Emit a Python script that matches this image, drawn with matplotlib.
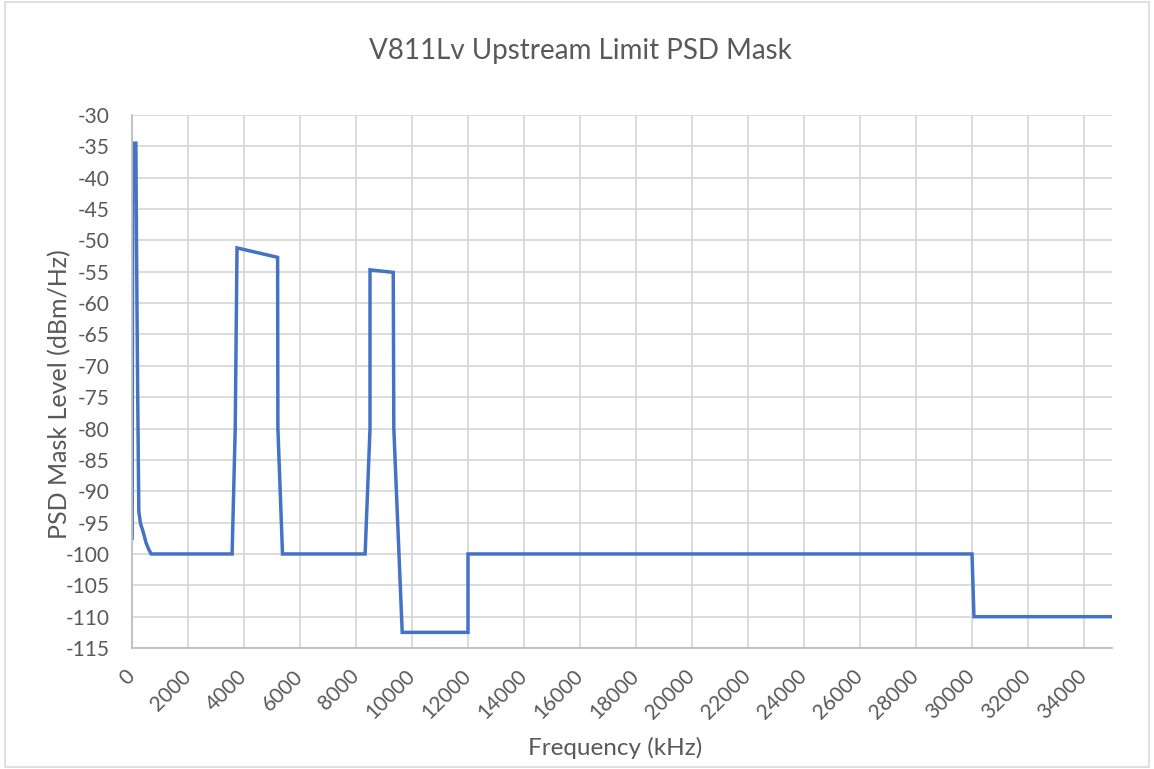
import numpy as np
import matplotlib
matplotlib.use("Agg")
import matplotlib.pyplot as plt
from matplotlib.patches import Rectangle

plt.rcParams['font.family'] = ['Lato', 'DejaVu Sans']
plt.rcParams['axes.unicode_minus'] = False

# mask breakpoints (kHz, dBm/Hz)
freq_khz = [0, 4, 25.875, 138, 150, 175, 200, 225, 243, 300, 400, 500, 600, 686,
            3575, 3686, 3750, 5200, 5210, 5375,
            8325, 8500, 8500, 9330, 9350, 9650,
            12000, 12000, 30000, 30070, 35000]
psd_dbm = [-97.5, -97.5, -34.5, -34.5, -43.2, -59.2, -73.0, -85.3, -93.2, -95.1, -96.5, -98.2, -99.3, -100,
           -100, -80, -51.2, -52.7, -80, -100,
           -100, -80, -54.7, -55.1, -80, -112.5,
           -112.5, -100, -100, -110, -110]

x_ticks = list(range(0, 34001, 2000))
y_ticks = list(range(-115, -29, 5))

fig = plt.figure(figsize=(11.54, 7.69), dpi=100)
ax = fig.add_axes([0.1144, 0.1573, 0.8492, 0.6932])

ax.plot(freq_khz, psd_dbm, color='#4472C4', linewidth=2.5, solid_joinstyle='miter')

ax.set_xlim(0, 35000)
ax.set_ylim(-115, -30)
ax.set_xticks(x_ticks)
ax.set_yticks(y_ticks)
ax.set_xticklabels([str(t) for t in x_ticks], rotation=45, ha='right', va='center',
                   rotation_mode='anchor')
ax.tick_params(axis='both', length=0, labelsize=15, colors='#595959')
ax.tick_params(axis='x', pad=18)
ax.tick_params(axis='y', pad=16)

ax.grid(True, color='#d9d9d9', linewidth=1.3)
ax.set_axisbelow(True)
for side in ['top', 'right']:
    ax.spines[side].set_visible(False)
for side in ['left', 'bottom']:
    ax.spines[side].set_color('#bfbfbf')
    ax.spines[side].set_linewidth(1.3)

fig.text(0.503, 0.923, 'V811Lv Upstream Limit PSD Mask', fontsize=20, color='#595959',
         ha='center', va='baseline')
fig.text(0.533, 1 - 755 / 769, 'Frequency (kHz)', fontsize=17.5, color='#595959',
         ha='center', va='baseline')
fig.text(0.052, 0.488, 'PSD Mask Level (dBm/Hz)', fontsize=18, color='#595959',
         ha='center', va='center', rotation=90)

fig.patches.append(Rectangle((0.004, 0.002), 0.992, 0.996, transform=fig.transFigure,
                             fill=False, edgecolor='#d9d9d9', linewidth=1.2))

fig.savefig('out.png', dpi=100)
